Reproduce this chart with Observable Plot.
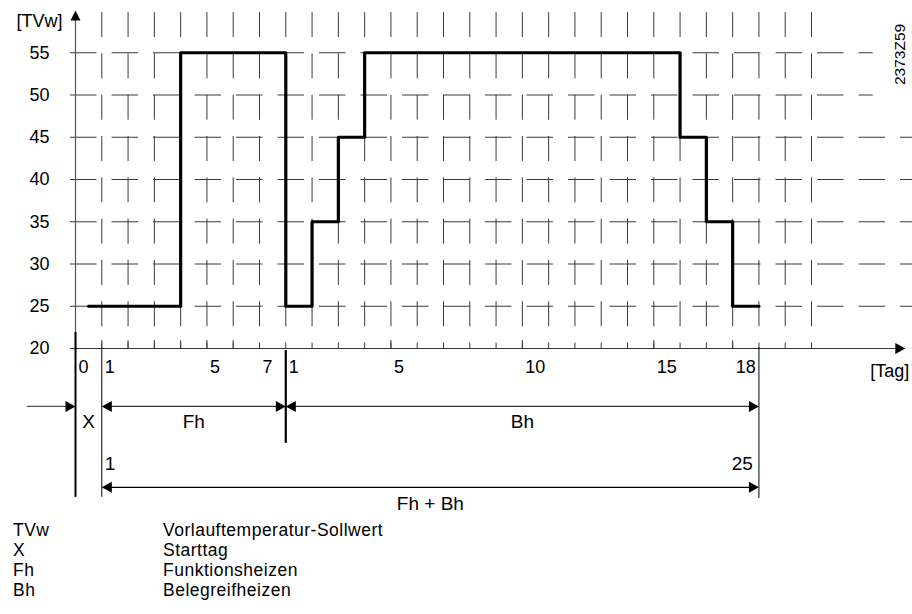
<!DOCTYPE html>
<html>
<head>
<meta charset="utf-8">
<script src="https://cdn.jsdelivr.net/npm/d3@7"></script>
<script src="https://cdn.jsdelivr.net/npm/@observablehq/plot@0.6"></script>
<style>
  html, body { margin: 0; padding: 0; background: #fff; }
  #wrap { position: relative; width: 912px; height: 614px; overflow: hidden; font-family: Arial, "Liberation Sans", sans-serif; }
  #legend { position: absolute; left: 13px; top: 520px; font-size: 17.5px; line-height: 20px; letter-spacing: 0.5px; color: #000; }
  #legend .row { display: flex; white-space: nowrap; height: 20px; }
  #legend .key { width: 150px; }
</style>
</head>
<body>
<div id="wrap">
  <div id="chart"></div>
  <div id="legend"></div>
</div>
<script>
// ---- Data ----
// Continuous day index: 0 = start day X, 1..7 = Fh days 1..7, 8..28 = Bh days 1..21
const stepDay   = [0.5, 4, 8, 9, 10, 11, 23, 24, 25, 26];
const stepTemp  = [25, 55, 25, 35, 45, 55, 45, 35, 25, 25];

const yTicks    = [20, 25, 30, 35, 40, 45, 50, 55];
const gridTemps = [25, 30, 35, 40, 45, 50, 55];
const gridDays  = [1, 2, 3, 4, 5, 6, 7, 8, 9, 10, 11, 12, 13, 14, 15, 16, 17, 18, 19, 20, 21, 22, 23, 24, 25, 26, 27, 28];
const majorTickDays = [1, 2, 3, 4, 5, 6, 12, 17, 22, 25];

const xTickDays   = [0, 1, 5, 7, 8, 12, 17, 22, 25];
const xTickLabels = ["0", "1", "5", "7", "1", "5", "10", "15", "18"];

const phaseNames  = ["X", "Fh", "Bh"];
const phaseStart  = [0, 1, 8];
const phaseEnd    = [1, 8, 26];

const totalName   = "Fh + Bh";
const totalStart  = 1;
const totalEnd    = 26;
const totalStartLabel = "1";
const totalEndLabel   = "25";

const boundaryDays = [0, 1, 8, 26];

const yAxisTitle = "[TVw]";
const xAxisTitle = "[Tag]";
const figureId   = "2373Z59";

const legendKeys   = ["TVw", "X", "Fh", "Bh"];
const legendLabels = ["Vorlauftemperatur-Sollwert", "Starttag", "Funktionsheizen", "Belegreifheizen"];

// ---- Build tables ----
const steps = stepDay.map((d, i) => ({day: d, temp: stepTemp[i]}));
const phases = phaseNames.map((n, i) => ({name: n, start: phaseStart[i], end: phaseEnd[i]}));
const xTicks = xTickDays.map((d, i) => ({day: d, label: xTickLabels[i]}));

// ---- Layout levels (chart units below the axis for the annotation rows) ----
const ROW1 = 13.14, ROW1TXT = 11.37, ROW2TXT = 6.4, ROW2 = 3.57, ROW3TXT = 1.55;
const ink = "#000", gridInk = "#3a3a3a";

// custom filled arrowheads (tip at the origin)
const triRight = {draw(c) { c.moveTo(0, 0); c.lineTo(-10, -5.5); c.lineTo(-10, 5.5); c.closePath(); }};
const triLeft  = {draw(c) { c.moveTo(0, 0); c.lineTo(10, -5.5); c.lineTo(10, 5.5); c.closePath(); }};
const triUp    = {draw(c) { c.moveTo(0, 0); c.lineTo(-5, 10); c.lineTo(5, 10); c.closePath(); }};

const boundaryStyle = {
  0:  {top: 21.9,  bottom: 2.38, w: 2},
  1:  {top: 20,    bottom: 2.38, w: 1},
  8:  {top: 19.76, bottom: 8.77, w: 2.2},
  26: {top: 20.1,  bottom: 2.26, w: 1}
};

const rightArrowHeads = [
  {day: 0, y: ROW1}, ...phases.slice(1).map(p => ({day: p.end, y: ROW1})), {day: totalEnd, y: ROW2}
];
const leftArrowHeads = [
  ...phases.slice(1).map(p => ({day: p.start, y: ROW1})), {day: totalStart, y: ROW2}
];

const chart = Plot.plot({
  width: 912,
  height: 515,
  marginLeft: 75,
  marginRight: 101,
  marginTop: 10,
  marginBottom: 167,
  style: {fontFamily: "Arial, 'Liberation Sans', sans-serif", fontSize: "18px", color: "#000", background: "#fff", overflow: "visible"},
  x: {domain: [0, 28]},
  y: {domain: [20, 60]},
  marks: [
    // dashed horizontal grid
    Plot.ruleY(gridTemps, {y: d => d, x1: () => -0.19, x2: d => d >= 50 ? 30.35 : 31.85,
      stroke: gridInk, strokeWidth: 1, strokeDasharray: "26.5,15"}),
    // dashed vertical grid
    Plot.ruleX(gridDays, {x: d => d, y1: () => 59.75, y2: () => 20,
      stroke: gridInk, strokeWidth: 1, strokeDasharray: "25,16.3"}),
    // longer ticks on labelled days
    Plot.ruleX(majorTickDays, {x: d => d, y1: () => 20, y2: () => 20.95, stroke: gridInk, strokeWidth: 1}),
    // axes lines with arrows
    Plot.ruleY([20], {y: d => d, x1: () => -0.19, x2: () => 31.3, stroke: "#333", strokeWidth: 1.2}),
    Plot.dot([20], {x: () => 31.57, y: d => d, symbol: triRight, r: 5, fill: ink, stroke: null}),
    Plot.ruleX([0], {x: d => d, y1: () => 20, y2: () => 59, stroke: "#555", strokeWidth: 1.2}),
    Plot.dot([0], {x: d => d, y: () => 60, symbol: triUp, r: 5, fill: ink, stroke: null}),
    // step curve
    Plot.line(steps, {x: "day", y: "temp", curve: "step-after", stroke: ink, strokeWidth: 3.2}),
    // axes
    Plot.axisY(yTicks, {tickSize: 0, tickPadding: 26, label: null, fontSize: 18}),
    Plot.axisX(xTicks.map(d => d.day), {tickSize: 0, tickPadding: 12, label: null, fontSize: 18,
      textAnchor: "start", dx: 3, tickFormat: d => xTicks.find(t => t.day === d).label}),
    Plot.text([yAxisTitle], {x: () => 0, y: () => 60, text: d => d, textAnchor: "end", dx: -13, dy: 11, fontSize: 18}),
    Plot.text([xAxisTitle], {x: () => 31.57, y: () => 20, text: d => d, textAnchor: "end", dx: 4, dy: 23, fontSize: 18}),
    Plot.text([figureId], {x: () => 31.38, y: () => 54.8, text: d => d, rotate: -90, fontSize: 15.5}),
    // annotation: day boundaries
    Plot.ruleX(boundaryDays, {x: d => d, y1: d => boundaryStyle[d].top, y2: d => boundaryStyle[d].bottom,
      stroke: ink, strokeWidth: d => boundaryStyle[d].w}),
    // annotation: row 1 dimension lines
    Plot.ruleY([phases[0]], {y: () => ROW1, x1: () => -1.83, x2: d => d.start - 0.3, stroke: "#555", strokeWidth: 1.2}),
    Plot.ruleY(phases.slice(1), {y: () => ROW1, x1: d => d.start + 0.3, x2: d => d.end - 0.3, stroke: "#333", strokeWidth: 1.2}),
    Plot.text(phases, {x: d => (d.start + d.end) / 2, y: () => ROW1TXT, text: "name", fontSize: 19}),
    // annotation: row 2 total
    Plot.ruleY([totalName], {y: () => ROW2, x1: () => totalStart + 0.3, x2: () => totalEnd - 0.3, stroke: ink, strokeWidth: 1.2}),
    Plot.text([totalStartLabel], {x: () => totalStart, y: () => ROW2TXT, text: d => d, textAnchor: "start", dx: 3, fontSize: 19}),
    Plot.text([totalEndLabel], {x: () => totalEnd, y: () => ROW2TXT, text: d => d, textAnchor: "end", dx: -6, fontSize: 19}),
    Plot.text([totalName], {x: () => (totalStart + totalEnd) / 2, y: () => ROW3TXT, text: d => d, fontSize: 19}),
    // arrowheads
    Plot.dot(rightArrowHeads, {x: "day", y: "y", symbol: triRight, r: 5, fill: ink, stroke: null}),
    Plot.dot(leftArrowHeads, {x: "day", y: "y", symbol: triLeft, r: 5, fill: ink, stroke: null})
  ]
});
document.getElementById("chart").appendChild(chart);

// legend
const legend = d3.select("#legend");
legendKeys.forEach((k, i) => {
  const row = legend.append("div").attr("class", "row");
  row.append("div").attr("class", "key").text(k);
  row.append("div").text(legendLabels[i]);
});
</script>
</body>
</html>
